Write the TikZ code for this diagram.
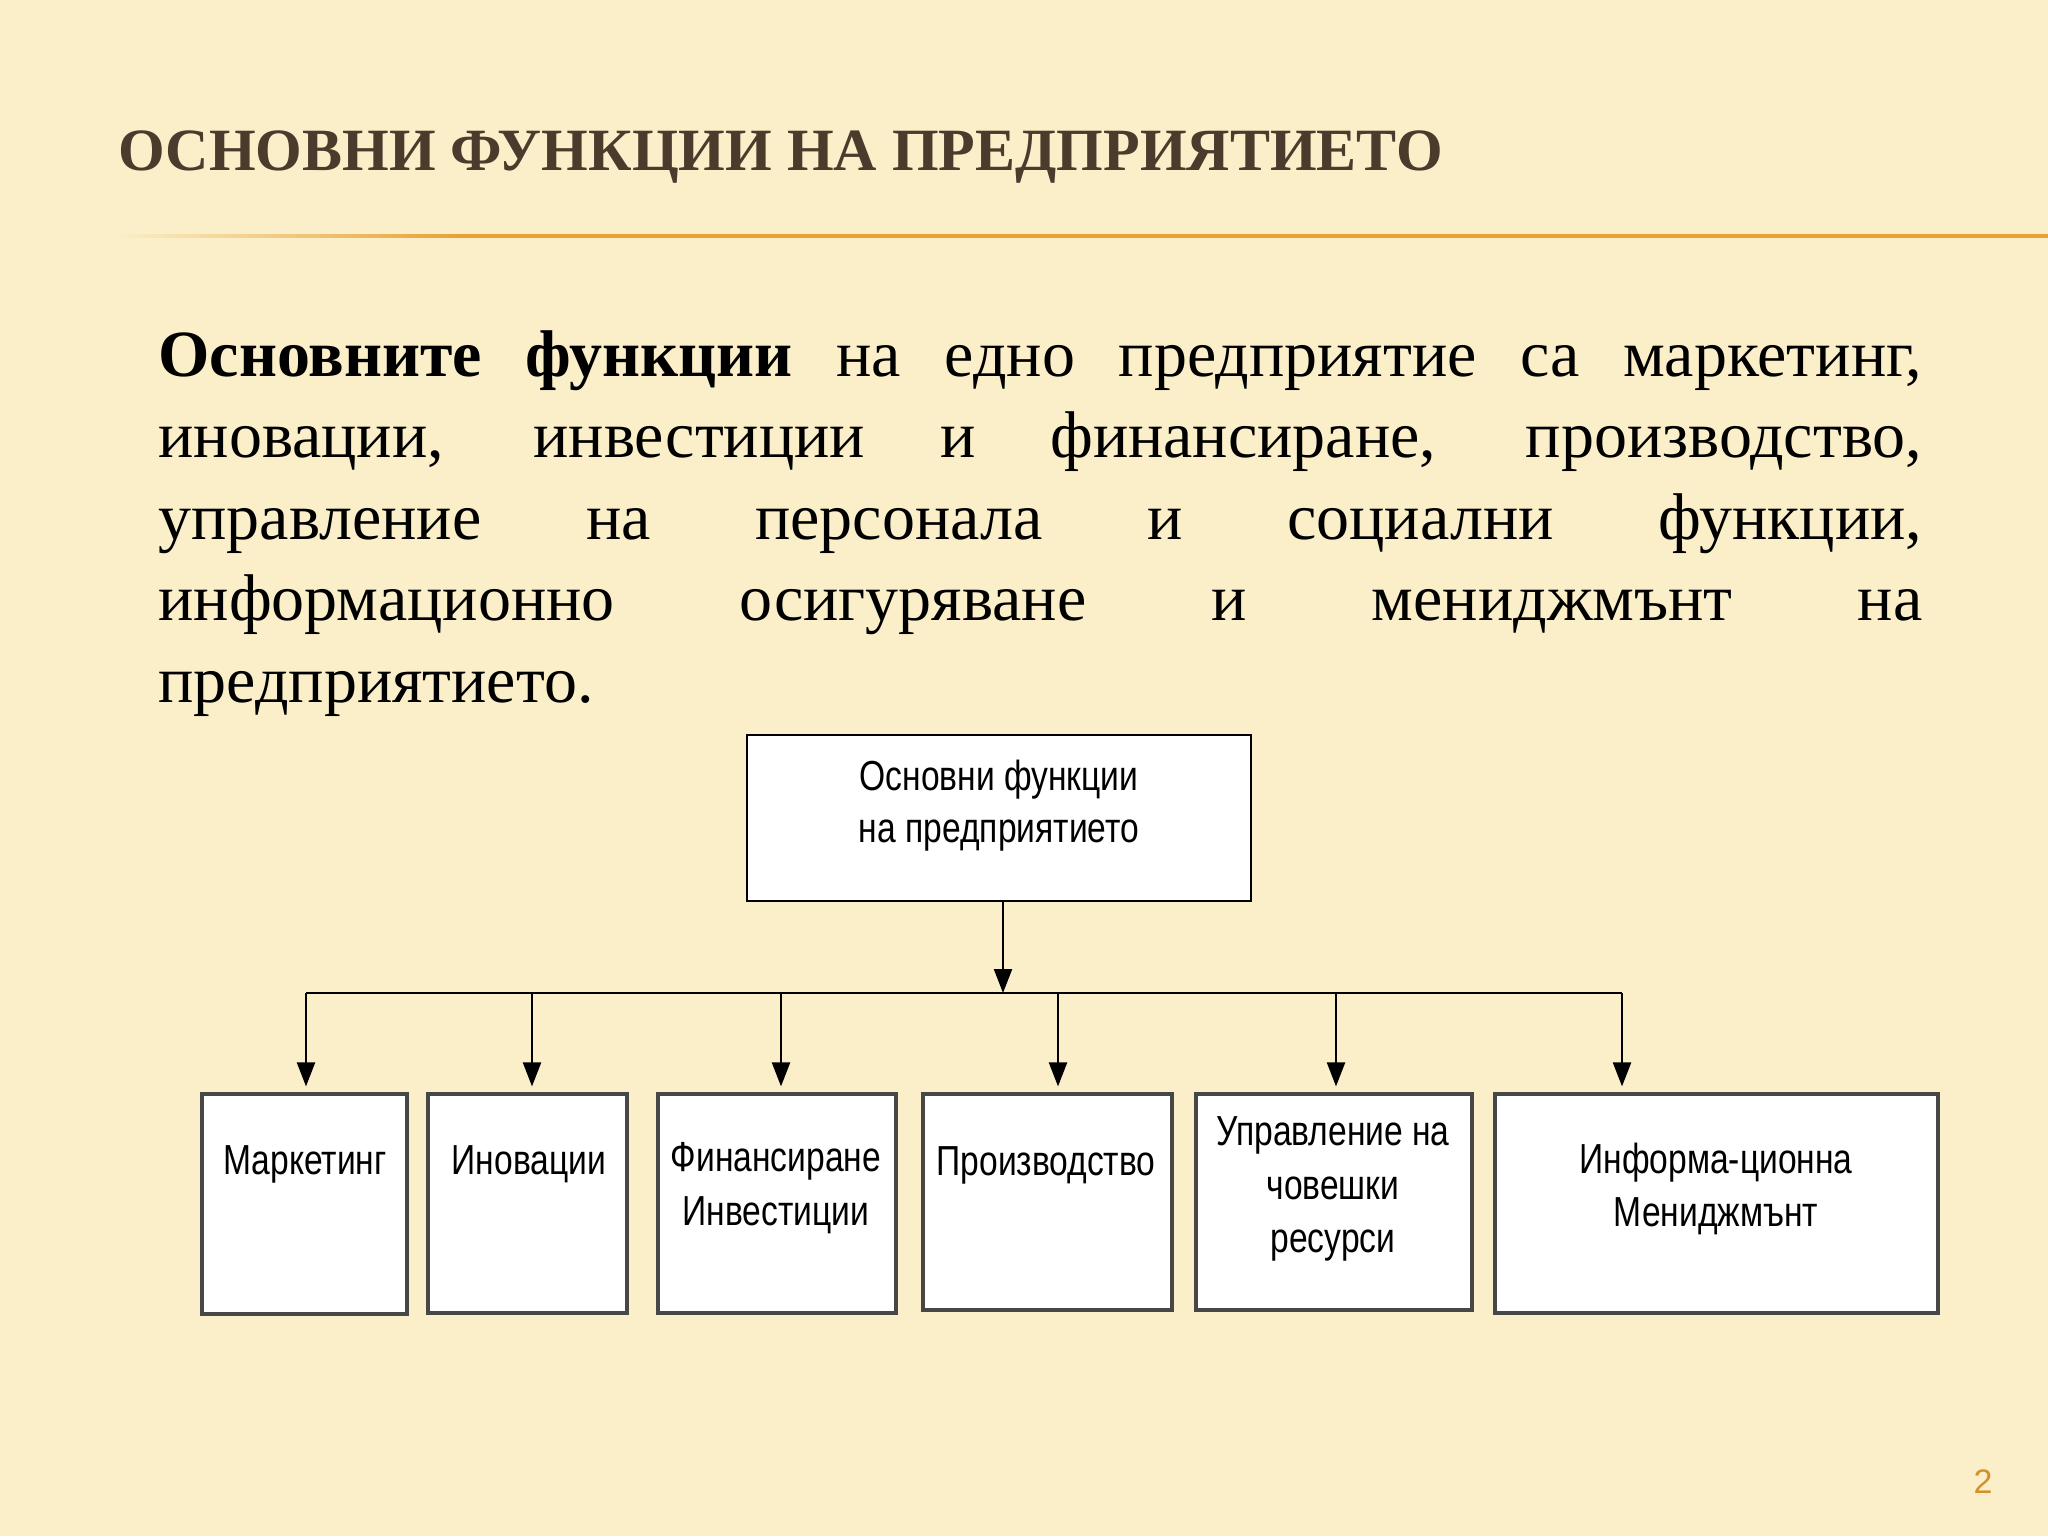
\documentclass[tikz,border=0pt]{standalone}
\usepackage{fontspec}
\setmainfont{Liberation Serif}
\newfontfamily\narrowfont[FakeStretch=0.8]{Liberation Sans}
\newfontfamily\numfont{Liberation Sans}
\usetikzlibrary{arrows.meta}
\definecolor{bgc}{HTML}{FAEFC9}
\definecolor{titlec}{HTML}{4A3B2D}
\definecolor{linec}{HTML}{E8A032}
\definecolor{numc}{HTML}{D4912A}
\tikzset{
  fbox/.style={draw=black!72, line width=1.6pt, fill=white, inner sep=0pt},
  topbox/.style={draw=black, line width=1.1pt, fill=white, inner sep=0pt},
  lbl/.style={font=\narrowfont\fontsize{21}{26.8}\selectfont, align=center, inner sep=0pt},
  conn/.style={line width=1.1pt, black},
  arr/.style={conn, -{Triangle[length=12pt,width=9pt]}}
}
\begin{document}
\begin{tikzpicture}[x=0.5pt,y=-0.5pt]
\fill[bgc] (0,0) rectangle (2048,1536);
\useasboundingbox (0,0) rectangle (2048,1536);

% title
\node[anchor=base west, inner sep=0pt, text=titlec, font=\bfseries\fontsize{30}{32}\selectfont] (title) at (118,170) {ОСНОВНИ ФУНКЦИИ НА ПРЕДПРИЯТИЕТО};
% orange rule, fading in at the left
\foreach \i in {0,...,59} {
  \pgfmathsetmacro{\pc}{\i*100/59}
  \fill[linec!\pc!bgc] ({110+\i*6},234) rectangle ({117+\i*6},238);
}
\fill[linec] (470,234) rectangle (2048,238);

% paragraph
\node[anchor=north west, text width=882pt, align=justify, inner sep=0pt,
      font=\fontsize{33}{40.75}\selectfont] (para) at (158,330)
{\hyphenpenalty=10000 \textbf{Основните функции} на едно предприятие са маркетинг,\linebreak
иновации, инвестиции и финансиране, производство,\linebreak
управление на персонала и социални функции,\linebreak
информационно осигуряване и мениджмънт на\linebreak
предприятието.};

% top box
\node[topbox, minimum width=252pt, minimum height=83pt] (top) at (999,818) {};
\node[lbl, font=\narrowfont\fontsize{21}{26}\selectfont] (ttop) at (999,806) {Основни функции\\на предприятието};

% bottom boxes
\node[fbox, minimum width=102.5pt, minimum height=110pt] (b1) at (304.5,1204) {};
\node[fbox, minimum width=99.5pt,  minimum height=109.5pt] (b2) at (527.5,1203.5) {};
\node[fbox, minimum width=119pt,   minimum height=109.5pt] (b3) at (777,1203.5) {};
\node[fbox, minimum width=124.5pt, minimum height=108pt] (b4) at (1047.5,1202) {};
\node[fbox, minimum width=138pt,   minimum height=108pt] (b5) at (1334,1202) {};
\node[fbox, minimum width=221.5pt, minimum height=109.5pt] (b6) at (1716.5,1203.5) {};

\node[lbl] (t1) at (305,1164) {Маркетинг};
\node[lbl] (t2) at (529,1164) {Иновации};
\node[lbl] (t3) at (776,1188) {Финансиране\\Инвестиции};
\node[lbl] (t4) at (1046,1165) {Производство};
\node[lbl] (t5) at (1333,1189) {Управление на\\човешки\\ресурси};
\node[lbl] (t6) at (1716,1189) {Информа-ционна\\Мениджмънт};

% connectors
\coordinate (hub) at (1003,993);
\coordinate (d1) at (306,993);
\coordinate (d2) at (532,993);
\coordinate (d3) at (781,993);
\coordinate (d4) at (1058,993);
\coordinate (d5) at (1336,993);
\coordinate (d6) at (1622,993);
\draw[arr] (hub |- top.south) -- (hub);
\draw[conn] (d1) -- (d6);
\draw[arr, shorten >=3pt] (d1) -- (d1 |- b1.north);
\draw[arr, shorten >=3pt] (d2) -- (d2 |- b2.north);
\draw[arr, shorten >=3pt] (d3) -- (d3 |- b3.north);
\draw[arr, shorten >=3pt] (d4) -- (d4 |- b4.north);
\draw[arr, shorten >=3pt] (d5) -- (d5 |- b5.north);
\draw[arr, shorten >=3pt] (d6) -- (d6 |- b6.north);

% page number
\node[text=numc, font=\numfont\fontsize{17}{20}\selectfont, inner sep=0pt] (pnum) at (1983,1482) {2};
\end{tikzpicture}
\end{document}
